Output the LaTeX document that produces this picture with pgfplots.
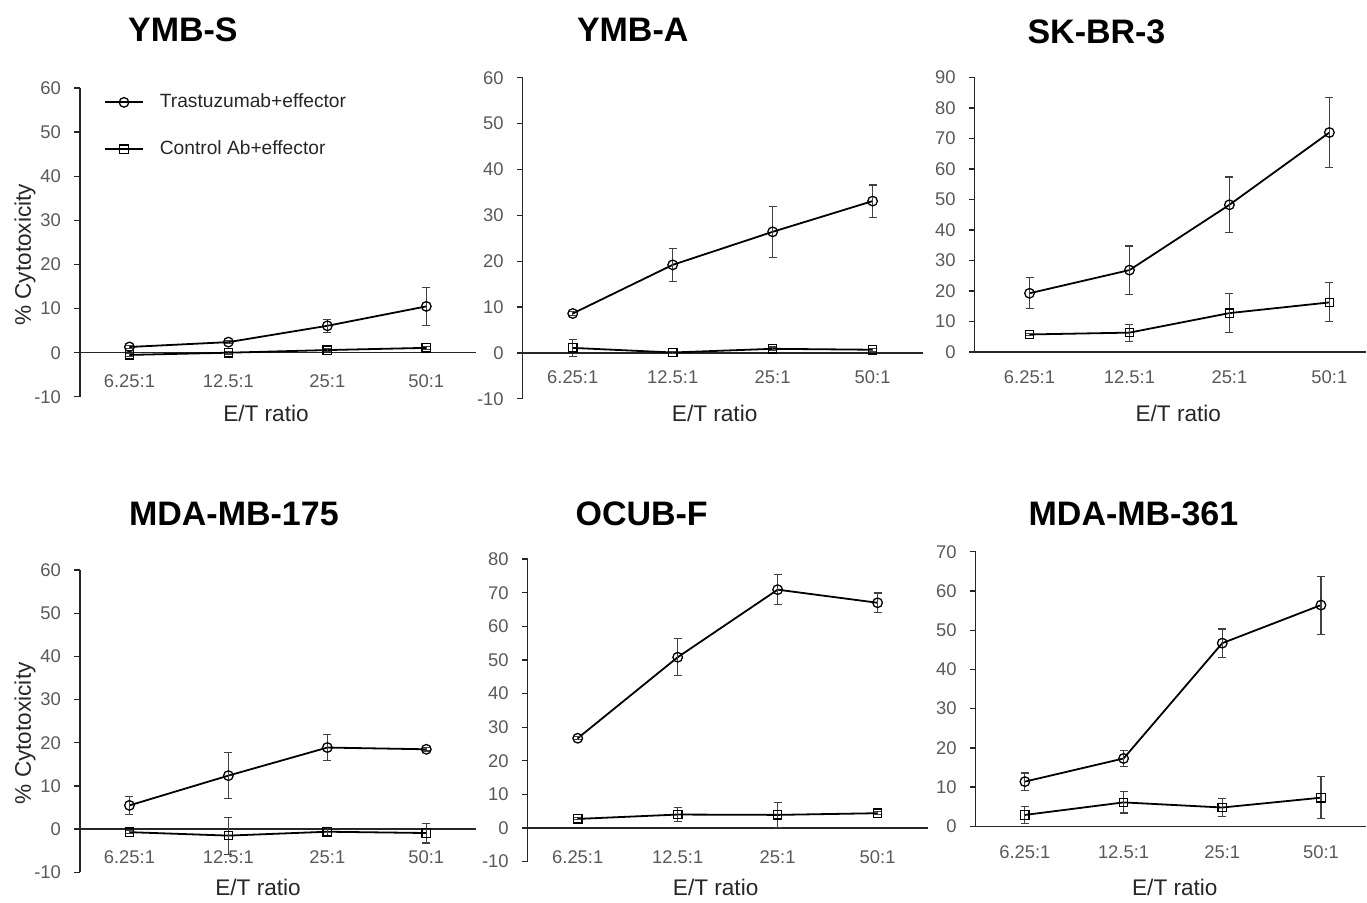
\documentclass[border=0pt]{standalone}
\usepackage{fontspec}
\setmainfont{Liberation Sans}
\usepackage{pgfplots}
\pgfplotsset{compat=1.18}
\definecolor{ticktxt}{HTML}{595959}
\definecolor{errc}{HTML}{404040}

\pgfplotsset{
  cyto/.style={
    scale only axis,
    anchor=south west,
    axis x line=middle,
    axis y line=left,
    axis line style={-, line width=0.65pt, black!85},
    xmin=0.5, xmax=4.5,
    xtick={1,2,3,4},
    xticklabels={6.25:1,12.5:1,25:1,50:1},
    x tick style={draw=none},
    y tick style={line width=0.65pt, black!85},
    tick align=outside,
    major tick length=3pt,
    ytick distance=10,
    /pgf/number format/assume math mode=true,
    tick label style={font=\fontsize{9.2}{11}\selectfont, text=ticktxt},
    yticklabel style={xshift=-3pt},
    label style={font=\fontsize{11.3}{13}\selectfont, text=black!85},
    xlabel={E/T ratio},
    clip=false,
  },
  tr/.style={black, line width=0.9pt, mark=o, mark size=2.4pt,
    mark options={line width=0.65pt, solid},
    error bars/.cd, y dir=both, y explicit,
    error bar style={line width=0.55pt, errc},
    error mark options={rotate=90, mark size=2pt, line width=0.55pt, errc}},
  ct/.style={black, line width=0.9pt, mark=square, mark size=2.1pt,
    mark options={line width=0.65pt, solid},
    error bars/.cd, y dir=both, y explicit,
    error bar style={line width=0.55pt, errc},
    error mark options={rotate=90, mark size=2pt, line width=0.55pt, errc}},
  ylab/.style={ylabel={\% Cytotoxicity},
    ylabel style={at={(axis description cs:-0.139,0.46)}, anchor=center}},
}

\begin{document}
\begin{tikzpicture}
\begin{scope}[x=0.5pt,y=-0.5pt]
\useasboundingbox (0,0) rectangle (1367,896);
\node[font=\bfseries\fontsize{17}{20}\selectfont] at (183,30) {YMB-S};
\node[font=\bfseries\fontsize{17}{20}\selectfont] at (633,30) {YMB-A};
\node[font=\bfseries\fontsize{17}{20}\selectfont] at (1097,32) {SK-BR-3};
\node[font=\bfseries\fontsize{17}{20}\selectfont] at (234,514) {MDA-MB-175};
\node[font=\bfseries\fontsize{17}{20}\selectfont] at (642,514) {OCUB-F};
\node[font=\bfseries\fontsize{17}{20}\selectfont] at (1134,514) {MDA-MB-361};
\end{scope}

% YMB-S
\begin{axis}[cyto, ylab, at={(40pt,-198.5pt)}, width=198pt, height=154.5pt,
  ymin=-10, ymax=60,
  xticklabel style={yshift=-4.5pt},
  xlabel style={at={(axis description cs:0.47,0)}, anchor=center, yshift=-8.5pt},
  legend style={draw=none, fill=none, at={(axis description cs:0.06,0.995)},
    anchor=north west, font=\fontsize{9.6}{11}\selectfont, text=black!85,
    row sep=11pt, column sep=6pt, inner sep=0pt, cells={anchor=west}},
  legend image code/.code={\draw[mark repeat=2, mark phase=2, #1]
    plot coordinates {(0pt,0pt) (9.5pt,0pt) (19pt,0pt)};}]
\addplot[tr] coordinates {(1,1.3) +- (0,0.4) (2,2.4) +- (0,0.4) (3,6.1) +- (0,1.5) (4,10.5) +- (0,4.3)};
\addplot[ct] coordinates {(1,-0.5) +- (0,0.4) (2,0.0) +- (0,0.3) (3,0.6) +- (0,0.4) (4,1.1) +- (0,0.4)};
\legend{Trastuzumab+effector, Control Ab+effector}
\end{axis}

% YMB-A
\begin{axis}[cyto, at={(261.5pt,-199.5pt)}, width=200pt, height=160.65pt,
  ymin=-10, ymax=60,
  minor xtick={1.5,2.5,3.5}, minor x tick style={line width=0.65pt, black!85},
  minor tick length=3pt,
  xticklabel style={yshift=-2.5pt},
  xlabel style={at={(axis description cs:0.48,0)}, anchor=center, yshift=-7.5pt}]
\addplot[tr] coordinates {(1,8.6) +- (0,0.4) (2,19.2) +- (0,3.6) (3,26.4) +- (0,5.5) (4,33.1) +- (0,3.5)};
\addplot[ct] coordinates {(1,1.1) +- (0,1.8) (2,0.1) +- (0,0.3) (3,0.9) +- (0,0.4) (4,0.7) +- (0,0.3)};
\end{axis}

% SK-BR-3
\begin{axis}[cyto, at={(487.5pt,-176.15pt)}, width=196pt, height=137.35pt,
  xmin=0.45, xmax=4.37, ymin=0, ymax=90,
  xticklabel style={yshift=-2.5pt},
  xlabel style={at={(axis description cs:0.52,0)}, anchor=center, yshift=-30.5pt}]
\addplot[tr] coordinates {(1,19.3) +- (0,5.1) (2,26.9) +- (0,7.9) (3,48.3) +- (0,9.1) (4,72.0) +- (0,11.4)};
\addplot[ct] coordinates {(1,5.8) +- (0,0.4) (2,6.4) +- (0,2.8) (3,12.8) +- (0,6.5) (4,16.3) +- (0,6.4)};
\end{axis}

% MDA-MB-175
\begin{axis}[cyto, ylab, at={(40pt,-436.35pt)}, width=198pt, height=151.15pt,
  ymin=-10, ymax=60,
  xticklabel style={yshift=-4pt},
  xlabel style={at={(axis description cs:0.45,0)}, anchor=center, yshift=-7.6pt}]
\addplot[tr] coordinates {(1,5.5) +- (0,2.1) (2,12.4) +- (0,5.3) (3,18.9) +- (0,3.0) (4,18.5) +- (0,0.4)};
\addplot[ct] coordinates {(1,-0.7) +- (0,0.4) (2,-1.5) +- (0,4.3) (3,-0.6) +- (0,1.0) (4,-0.9) +- (0,2.3)};
\end{axis}

% OCUB-F
\begin{axis}[cyto, at={(264pt,-431pt)}, width=200pt, height=151.35pt,
  ymin=-10, ymax=80,
  xticklabel style={yshift=-5pt},
  xlabel style={at={(axis description cs:0.47,0)}, anchor=center, yshift=-13pt}]
\addplot[tr] coordinates {(1,26.7) +- (0,0.4) (2,50.8) +- (0,5.5) (3,70.9) +- (0,4.5) (4,67.0) +- (0,2.9)};
\addplot[ct] coordinates {(1,2.7) +- (0,0.3) (2,4.0) +- (0,2.1) (3,3.9) +- (0,3.8) (4,4.4) +- (0,0.4)};
\end{axis}

% MDA-MB-361
\begin{axis}[cyto, at={(488pt,-413.35pt)}, width=195.5pt, height=137.35pt,
  xmin=0.5, xmax=4.46, ymin=0, ymax=70,
  xticklabel style={yshift=-3pt},
  xlabel style={at={(axis description cs:0.51,0)}, anchor=center, yshift=-30.6pt}]
\addplot[tr] coordinates {(1,11.4) +- (0,2.2) (2,17.3) +- (0,2.0) (3,46.7) +- (0,3.6) (4,56.4) +- (0,7.4)};
\addplot[ct] coordinates {(1,2.9) +- (0,2.1) (2,6.1) +- (0,2.7) (3,4.8) +- (0,2.4) (4,7.3) +- (0,5.4)};
\end{axis}
\end{tikzpicture}
\end{document}
